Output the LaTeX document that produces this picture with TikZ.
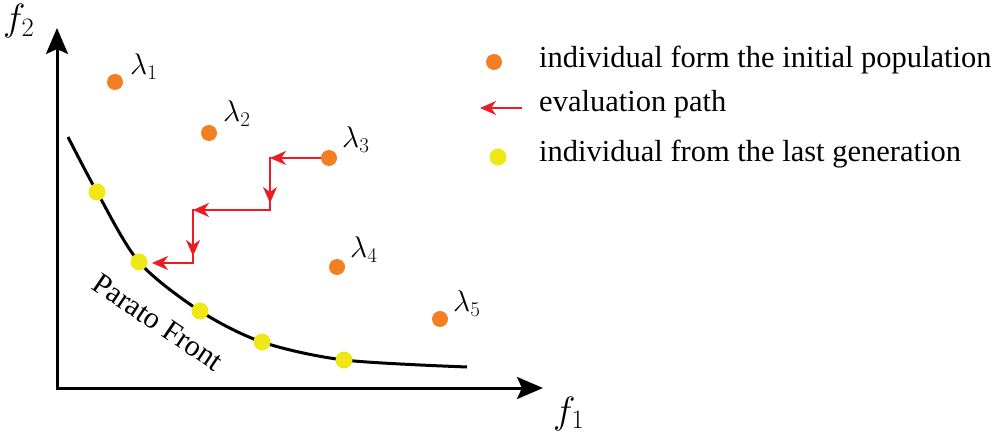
\RequirePackage{fix-cm}
\documentclass[tikz,border=0pt]{standalone}
\usepackage{fontspec}
\setmainfont{Liberation Serif}
\usetikzlibrary{arrows.meta}
\definecolor{dotorange}{RGB}{242,128,34}
\definecolor{dotyellow}{RGB}{240,232,22}
\definecolor{pathred}{RGB}{237,28,36}
\begin{document}
\begin{tikzpicture}[x=1pt,y=-1pt,
  orangedot/.style={circle,fill=dotorange,minimum size=16pt,inner sep=0pt},
  yellowdot/.style={circle,fill=dotyellow,minimum size=17pt,inner sep=0pt},
  axis/.style={line width=3pt,line join=miter,{Stealth[length=26pt,width=22pt,inset=5pt]}-{Stealth[length=26pt,width=22pt,inset=5pt]}},
  evalarrow/.style={pathred,line width=1.8pt,-{Stealth[length=16pt,width=14pt,inset=5pt]}},
  evalline/.style={pathred,line width=1.8pt,line cap=rect},
  lam/.style={anchor=base west,inner sep=0pt,font=\fontsize{30}{34}\selectfont},
  axlabel/.style={anchor=base west,inner sep=0pt,font=\fontsize{38}{42}\selectfont},
  legend/.style={anchor=base west,inner sep=0pt,font=\fontsize{30.5}{36}\selectfont}]
\useasboundingbox (0,0) rectangle (1000,435);

% axes
\coordinate (O) at (57,388);
\coordinate (ytip) at (57,28);
\coordinate (xtip) at (543,388);
\draw[axis] (ytip) -- (O) -- (xtip);
\node[axlabel] (f2) at (3,31) {$f_2$};
\node[axlabel] (f1) at (553,423) {$f_1$};

% Pareto curve
\coordinate (c0) at (68,137);
\coordinate (p1) at (97,192);
\coordinate (p2) at (139,262);
\coordinate (p3) at (200,311);
\coordinate (p4) at (262,342);
\coordinate (p5) at (344,360);
\coordinate (c6) at (467,367);
\draw[line width=3pt] plot[smooth,tension=0.5] coordinates {(c0) (p1) (p2) (p3) (p4) (p5) (c6)};
\foreach \i in {1,...,5} \node[yellowdot] (y\i) at (p\i) {};
\node[rotate=-34,inner sep=0pt,font=\fontsize{30}{34}\selectfont] (pf) at (158,322) {Parato Front};

% initial population
\node[orangedot] (l1) at (115,82) {};
\node[orangedot] (l2) at (209,133) {};
\node[orangedot] (l3) at (329,158) {};
\node[orangedot] (l4) at (337,267) {};
\node[orangedot] (l5) at (440,319) {};
\node[lam] (t1) at (130,75) {$\lambda_1$};
\node[lam] (t2) at (223,122) {$\lambda_2$};
\node[lam] (t3) at (342,148) {$\lambda_3$};
\node[lam] (t4) at (350,258) {$\lambda_4$};
\node[lam] (t5) at (453,312) {$\lambda_5$};

% evaluation path
\coordinate (e1) at (270,158);
\coordinate (e2) at (270,210);
\coordinate (e2a) at (270,203);
\coordinate (e3) at (193,210);
\coordinate (e4) at (193,263);
\coordinate (e4a) at (193,256);
\coordinate (e5) at (152,263);
\draw[evalarrow] (l3.west) -- (e1);
\draw[evalline] (e1) -- (e2);
\draw[evalarrow] (e1) -- (e2a);
\draw[evalarrow] (e2) -- (e3);
\draw[evalline] (e3) -- (e4);
\draw[evalarrow] (e3) -- (e4a);
\draw[evalarrow] (e4) -- (e5);

% legend
\node[orangedot] (lo) at (494,62) {};
\node[legend] (lt1) at (539,68) {individual form the initial population};
\coordinate (la1) at (522,108);
\coordinate (la2) at (480,108);
\draw[evalarrow] (la1) -- (la2);
\node[legend] (lt2) at (539,112) {evaluation path};
\node[yellowdot] (ly) at (498,157) {};
\node[legend] (lt3) at (539,162) {individual from the last generation};
\end{tikzpicture}
\end{document}
